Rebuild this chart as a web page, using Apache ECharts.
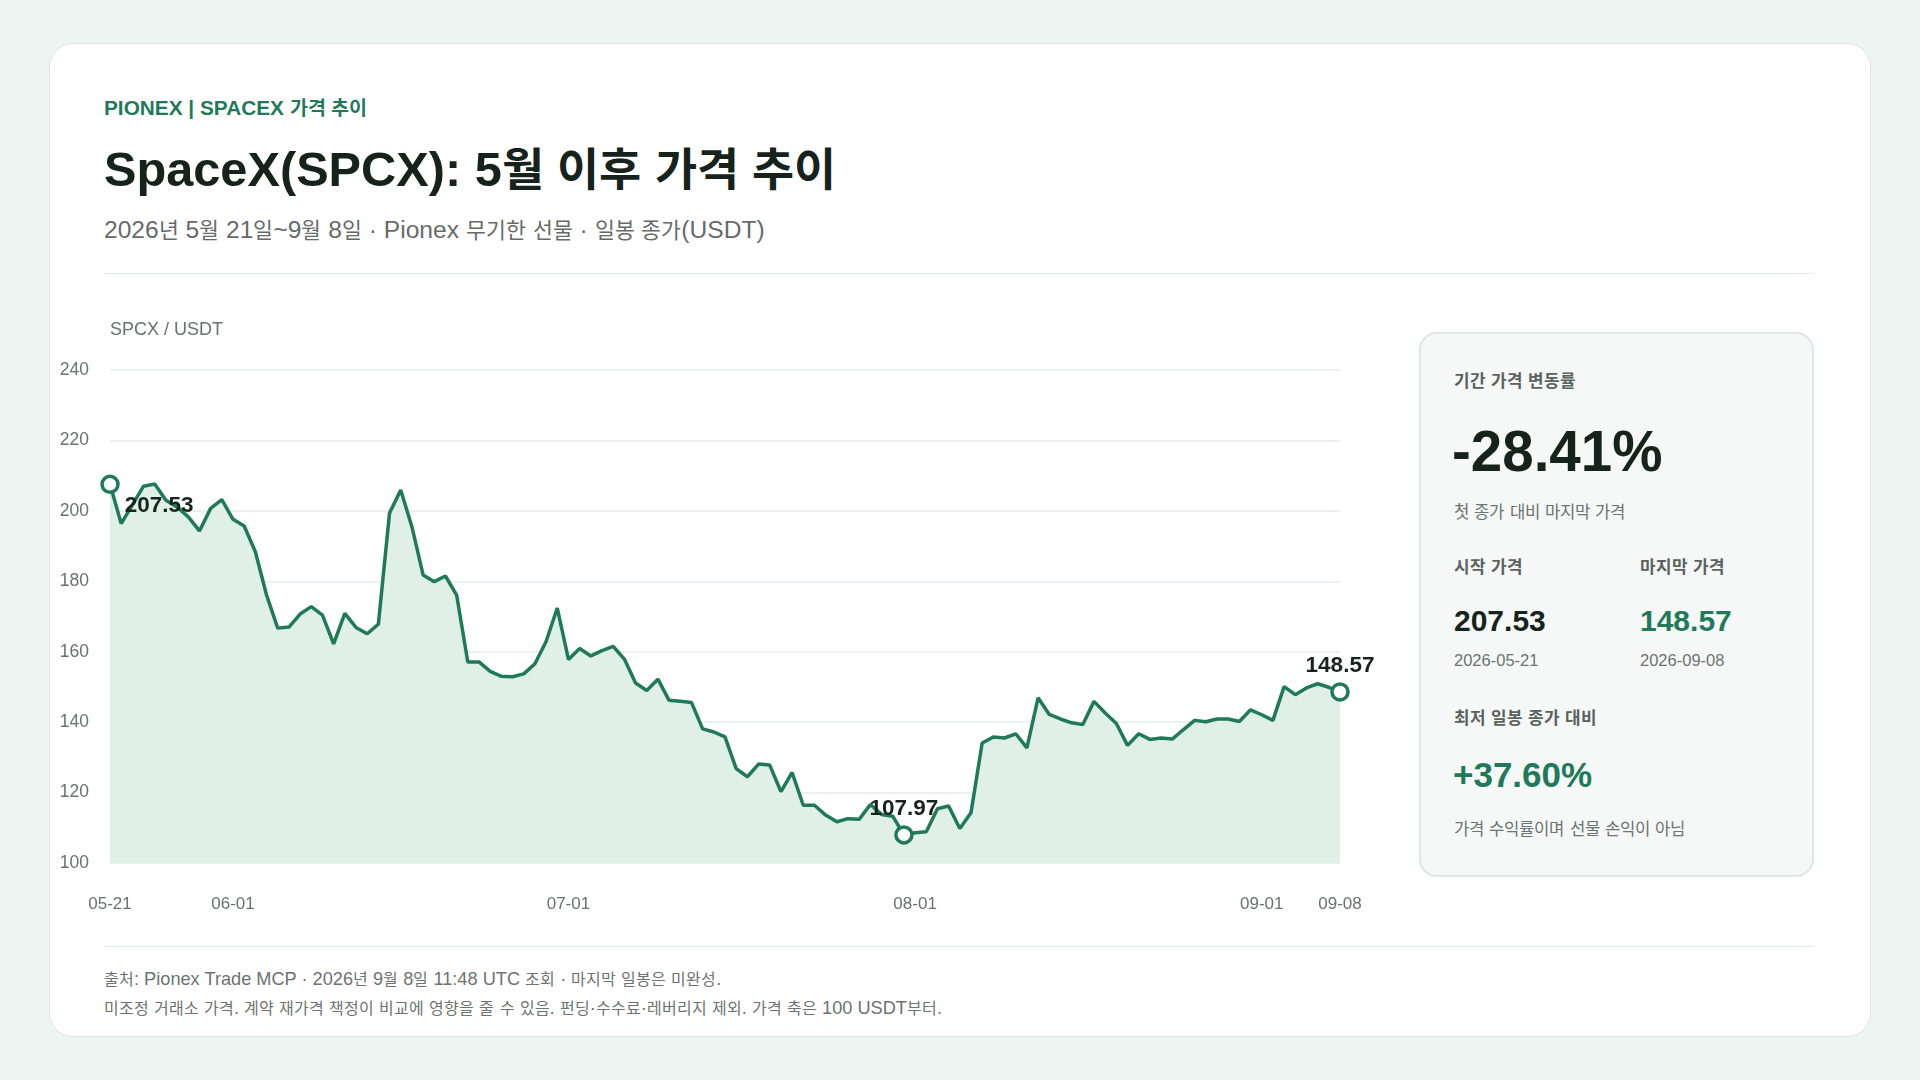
<!DOCTYPE html>
<html lang="ko">
<head>
    <meta charset="UTF-8">
    <title>SpaceX(SPCX): 5월 이후 가격 추이</title>
    <script src="https://cdn.jsdelivr.net/npm/echarts@6/dist/echarts.min.js"></script>
    <style>
        /* 한글 글리프만 조금 작게 */
        @font-face {
            font-family: "KR";
            src: local("Noto Sans CJK KR"), local("NotoSansCJKkr-Regular"), local("Noto Sans CJK KR Regular");
            font-weight: 400;
            unicode-range: U+1100-11FF, U+3130-318F, U+AC00-D7AF;
            size-adjust: 88%;
        }
        @font-face {
            font-family: "KR";
            src: local("Noto Sans CJK KR Bold"), local("NotoSansCJKkr-Bold");
            font-weight: 700;
            unicode-range: U+1100-11FF, U+3130-318F, U+AC00-D7AF;
            size-adjust: 94%;
        }
        * { box-sizing: border-box; margin: 0; padding: 0; }
        body {
            width: 1920px;
            height: 1080px;
            background: #eef4f1;
            font-family: "Liberation Sans", Arial, "KR", "Noto Sans CJK KR", sans-serif;
            position: relative;
            overflow: hidden;
        }
        .abs { position: absolute; white-space: nowrap; line-height: 1; }
        .card {
            position: absolute;
            left: 49px; top: 43px;
            width: 1822px; height: 994px;
            background: #fff;
            border: 1px solid #dde7e2;
            border-radius: 24px;
        }
        .eyebrow { left: 104px; top: 98px; font-size: 20.8px; font-weight: bold; color: #1f7a5a; }
        .title { left: 104px; top: 145px; font-size: 48.7px; font-weight: bold; color: #15231c; }
        .sub { left: 104px; top: 218px; font-size: 24.6px; color: #666b68; }
        .rule { position: absolute; left: 104px; width: 1710px; height: 1px; background: #e3eae6; }

        .panel {
            position: absolute;
            left: 1419px; top: 332px;
            width: 395px; height: 545px;
            background: #f5f8f7;
            border: 2px solid #dfe7e3;
            border-radius: 18px;
        }
        .lbl { font-size: 18px; font-weight: bold; color: #5b615e; }
        .note { font-size: 19px; color: #6d7370; }
        .date { font-size: 16.5px; color: #6d7370; }
        .big { font-size: 56.5px; font-weight: bold; color: #15231c; }
        .num { font-size: 30px; font-weight: bold; color: #15231c; }
        .green { color: #1f7a5a; }
        .foot { font-size: 18.2px; color: #6d7370; left: 104px; }
        #chart { position: absolute; left: 40px; top: 300px; width: 1360px; height: 640px; }
    </style>
</head>
<body>
    <div class="card"></div>
    <div class="abs eyebrow">PIONEX | SPACEX 가격 추이</div>
    <div class="abs title">SpaceX(SPCX): 5월 이후 가격 추이</div>
    <div class="abs sub">2026년 5월 21일~9월 8일 · Pionex 무기한 선물 · 일봉 종가(USDT)</div>
    <div class="rule" style="top:273px"></div>

    <div id="chart"></div>

    <div class="panel"></div>
    <div class="abs lbl" style="left:1454px;top:372px">기간 가격 변동률</div>
    <div class="abs big" style="left:1452px;top:424px">-28.41%</div>
    <div class="abs note" style="left:1454px;top:502px">첫 종가 대비 마지막 가격</div>
    <div class="abs lbl" style="left:1454px;top:558px">시작 가격</div>
    <div class="abs lbl" style="left:1640px;top:558px">마지막 가격</div>
    <div class="abs num" style="left:1454px;top:606px">207.53</div>
    <div class="abs num green" style="left:1640px;top:606px">148.57</div>
    <div class="abs date" style="left:1454px;top:652px">2026-05-21</div>
    <div class="abs date" style="left:1640px;top:652px">2026-09-08</div>
    <div class="abs lbl" style="left:1454px;top:709px">최저 일봉 종가 대비</div>
    <div class="abs big green" style="left:1453px;top:757px;font-size:35px">+37.60%</div>
    <div class="abs note" style="left:1454px;top:819px">가격 수익률이며 선물 손익이 아님</div>

    <div class="rule" style="top:946px"></div>
    <div class="abs foot" style="top:970px">출처: Pionex Trade MCP · 2026년 9월 8일 11:48 UTC 조회 · 마지막 일봉은 미완성.</div>
    <div class="abs foot" style="top:999px">미조정 거래소 가격. 계약 재가격 책정이 비교에 영향을 줄 수 있음. 펀딩·수수료·레버리지 제외. 가격 축은 100 USDT부터.</div>

    <script>
        // 일봉 종가 (2026-05-21 ~ 2026-09-08)
        const closes = [
            207.53, 196.4, 201.7, 207.0, 207.6, 203.0, 201.1, 198.3, 194.3, 200.7,
            203.2, 197.6, 195.7, 188.4, 176.1, 166.7, 167.0, 170.7, 172.8, 170.4,
            162.2, 170.9, 166.9, 165.1, 167.8, 199.4, 205.9, 195.5, 181.8, 179.9,
            181.5, 176.1, 157.1, 157.1, 154.4, 153.0, 152.9, 153.7, 156.6, 162.9,
            172.4, 157.8, 160.9, 158.8, 160.3, 161.5, 157.9, 151.1, 149.0, 152.2,
            146.2, 145.9, 145.6, 138.1, 137.2, 135.8, 126.8, 124.5, 128.1, 127.8,
            120.3, 125.7, 116.4, 116.4, 113.6, 111.7, 112.6, 112.4, 116.6, 113.8,
            113.3, 107.97, 108.6, 108.9, 115.4, 116.2, 109.8, 114.3, 134.1, 135.8,
            135.5, 136.7, 132.7, 146.9, 142.2, 140.9, 139.8, 139.3, 145.9, 142.6,
            139.6, 133.4, 136.7, 135.1, 135.5, 135.2, 137.9, 140.5, 140.1, 140.9,
            140.9, 140.2, 143.5, 142.1, 140.5, 150.1, 147.8, 149.7, 150.9, 149.9,
            148.57
        ]
        // x축 눈금
        const tickLabels = ['05-21', '06-01', '07-01', '08-01', '09-01', '09-08']
        // y축 눈금
        const yMin = 100, yMax = 240, yStep = 20

        // 날짜 카테고리 (하루 간격)
        const dates = []
        const t0 = Date.UTC(2026, 4, 21)
        for (let i = 0; i < closes.length; i++) {
            dates.push(new Date(t0 + i * 86400000).toISOString().slice(0, 10))
        }

        // 시작 / 최저 / 마지막 표시
        const minIdx = closes.indexOf(Math.min(...closes))
        const lastIdx = closes.length - 1
        const marks = [
            { value: [0, closes[0]], label: { position: 'right', distance: 5, offset: [0, 21] } },
            { value: [minIdx, closes[minIdx]], label: { position: 'top', distance: 5 } },
            { value: [lastIdx, closes[lastIdx]], label: { position: 'top', distance: 5 } }
        ]

        const green = '#1f7a5a'
        const font = '"Liberation Sans", Arial, sans-serif'

        const myChart = echarts.init(document.getElementById('chart'))
        myChart.setOption({
            animation: false,
            textStyle: { fontFamily: font },
            grid: { left: 70, top: 70, width: 1230, height: 493 },
            xAxis: {
                type: 'category',
                data: dates,
                boundaryGap: false,
                axisLine: { show: false },
                axisTick: { show: false },
                splitLine: { show: false },
                axisLabel: {
                    margin: 33,
                    fontSize: 17,
                    color: '#6b716e',
                    interval: (i, v) => tickLabels.includes(v.slice(5)),
                    formatter: v => v.slice(5)
                }
            },
            yAxis: {
                type: 'value',
                min: yMin,
                max: yMax,
                interval: yStep,
                name: 'SPCX / USDT',
                nameLocation: 'end',
                nameGap: 31,
                nameTextStyle: { fontSize: 18, color: '#6b716e', align: 'left' },
                axisLine: { show: false },
                axisTick: { show: false },
                axisLabel: { margin: 21, fontSize: 17.5, color: '#6b716e' },
                splitLine: { lineStyle: { color: '#e4ece8', width: 1.5 } }
            },
            series: [
                {
                    type: 'line',
                    data: closes,
                    symbol: 'none',
                    lineStyle: { color: green, width: 3.5 },
                    areaStyle: { color: '#e0efe7', opacity: 1 },
                    z: 2
                },
                {
                    type: 'scatter',
                    data: marks,
                    clip: false,
                    symbol: 'circle',
                    symbolSize: 16,
                    itemStyle: { color: '#fff', borderColor: green, borderWidth: 3.5, opacity: 1 },
                    label: {
                        show: true,
                        fontSize: 22.5,
                        fontWeight: 'bold',
                        color: '#17231d',
                        formatter: p => p.value[1].toFixed(2)
                    },
                    z: 5
                }
            ]
        })
    </script>
</body>
</html>
